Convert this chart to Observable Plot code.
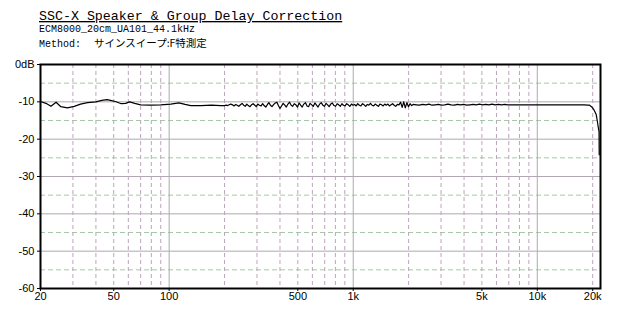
<!DOCTYPE html>
<html>
<head>
<meta charset="utf-8">
<script src="https://cdn.jsdelivr.net/npm/d3@7"></script>
<script src="https://cdn.jsdelivr.net/npm/@observablehq/plot@0.6"></script>
<style>
  body { margin: 0; background: #fff; }
  #wrap { width: 640px; height: 320px; background: #fff; }
  #head { display: block; }
</style>
</head>
<body>
<div id="wrap"></div>
<script>
// ---- texts ----
const titleText = "SSC-X Speaker & Group Delay Correction";
const subLine1 = "ECM8000_20cm_UA101_44.1kHz";
const subLine2a = "Method: ";
const subLine2b = "サインスイープ:F特測定";

// ---- axes ----
const xDomain = [20, 22050];
const xTicks = [20, 50, 100, 500, 1000, 5000, 10000, 20000];
const xTickLabels = ["20", "50", "100", "500", "1k", "5k", "10k", "20k"];
const yTicks = [0, -10, -20, -30, -40, -50, -60];
const yTickLabels = ["0dB", "-10", "-20", "-30", "-40", "-50", "-60"];
const xGridMajor = [100, 1000, 10000];
const xGridMinor = [30, 40, 50, 60, 70, 80, 90, 200, 300, 400, 500, 600, 700, 800, 900,
  2000, 3000, 4000, 5000, 6000, 7000, 8000, 9000, 20000];
const yGridMajor = [-10, -20, -30, -40, -50];
const yGridMinor = [-5, -15, -25, -35, -45, -55];

// ---- measured response (frequency Hz, level dB) ----
const freq = [
  20, 21.4, 22.8, 24.3, 25.8, 28, 30.5, 33, 36, 40, 43, 46, 48, 51, 55, 58, 61, 65, 70, 79, 90,
  102, 113, 122, 131, 149, 170, 190,
  200, 204, 208, 212, 216, 221, 225, 230, 234, 239, 244, 249, 254, 259, 264, 269, 275, 280,
  286, 292, 297, 303, 309, 316, 322, 328, 335, 342, 348, 355, 362, 370, 377, 385, 392, 400,
  408, 416, 425, 433, 442, 451, 460, 469, 478, 488, 498, 508, 518, 528, 539, 550, 561, 572,
  583, 595, 607, 619, 632, 644, 657, 670, 684, 698, 712, 726, 740, 755, 770, 786, 802, 818,
  834, 851, 868, 885, 903, 921, 940, 958, 978, 997, 1017, 1038, 1058, 1080, 1101, 1123, 1146,
  1169, 1192, 1216, 1240, 1265, 1291, 1316, 1343, 1370, 1397, 1425, 1454, 1483, 1512, 1543,
  1573, 1605, 1637, 1670, 1703, 1737, 1772, 1808, 1844, 1881, 1918, 1957, 1996, 2036, 2077, 2118,
  2200, 2290, 2380, 2480, 2580, 2680, 2790, 2900, 3020, 3140, 3270, 3400, 3540, 3680, 3830,
  3980, 4140, 4310, 4480, 4660, 4850, 5040, 5250, 5460, 5680, 5900, 6140, 6390, 6650, 6900,
  8000, 10000, 12000, 15000, 18000, 18800, 19230, 19700, 20300, 20900, 21200, 21350, 21550, 21650, 21700
];
const level = [
  -9.9, -10.4, -11.2, -10.1, -11.3, -11.6, -11.2, -10.6, -10.2, -10.0, -9.6, -9.4, -9.6, -9.9, -10.5, -10.4, -10.0, -10.4, -10.8, -10.9, -10.8,
  -10.6, -10.3, -10.7, -11.0, -11.0, -10.9, -11.0,
  -11.0, -10.9, -11.0, -10.8, -10.6, -10.8, -11.1, -10.7, -10.9, -11.2, -10.8, -10.4, -10.9, -11.2, -10.6, -11.0, -11.3, -10.8,
  -10.5, -10.9, -11.3, -10.6, -10.9, -11.1, -10.5, -11.0, -11.4, -10.7, -10.2, -10.9, -11.3, -10.7, -10.3, -10.1, -11.0, -11.8,
  -11.1, -10.4, -10.9, -11.4, -10.6, -10.1, -10.9, -11.2, -10.5, -10.8, -11.4, -10.3, -10.9, -11.4, -10.6, -10.2, -11.1, -11.3,
  -10.4, -10.8, -11.2, -10.3, -10.9, -11.4, -10.6, -10.2, -10.9, -11.2, -10.4, -10.8, -11.3, -10.6, -10.3, -11.0, -11.2, -10.5,
  -10.8, -11.2, -10.5, -10.9, -11.1, -10.5, -10.8, -11.2, -10.6, -10.9, -10.7, -11.1, -10.5, -10.9, -11.1, -10.5, -10.8,
  -11.2, -10.7, -10.9, -10.4, -10.9, -11.1, -10.6, -10.9, -11.2, -10.6, -10.8, -11.1, -10.6, -10.9, -10.6,
  -11.1, -10.8, -10.5, -10.9, -11.2, -10.7, -10.8, -10.1, -11.5, -10.0, -11.6, -10.2, -11.3, -10.5, -11.0, -10.7,
  -10.8, -10.9, -10.7, -10.8, -10.6, -10.9, -10.8, -10.7, -10.9, -10.8, -10.6, -10.8, -10.9, -10.7, -10.8,
  -10.7, -10.9, -10.8, -10.7, -10.8, -10.6, -10.8, -10.7, -10.8, -10.6, -10.8, -10.7, -10.8, -10.7, -10.8,
  -10.8, -10.8, -10.8, -10.8, -10.8, -10.9, -10.9, -11.3, -12.1, -13.4, -15.2, -16.2, -17.5, -18.0, -24.2
];

const data = freq.map((f, i) => ({f, db: level[i]}));
const xTickData = xTicks.map((v, i) => ({v, label: xTickLabels[i]}));

// ---- header (title and subtitles) ----
const wrap = document.getElementById("wrap");
const head = d3.create("svg")
  .attr("id", "head")
  .attr("width", 640)
  .attr("height", 56);
head.append("text")
  .attr("x", 39).attr("y", 20)
  .attr("font-family", "'Liberation Mono', 'DejaVu Sans Mono', monospace")
  .attr("font-size", 13.3)
  .attr("text-decoration", "underline")
  .attr("fill", "#000")
  .text(titleText);
head.append("text")
  .attr("x", 39).attr("y", 32)
  .attr("font-family", "'Liberation Mono', 'DejaVu Sans Mono', monospace")
  .attr("font-size", 10)
  .attr("fill", "#000")
  .text(subLine1);
const l2 = head.append("text")
  .attr("x", 39).attr("y", 47)
  .attr("font-family", "'Liberation Mono', 'DejaVu Sans Mono', monospace")
  .attr("font-size", 10)
  .attr("fill", "#000")
  .attr("xml:space", "preserve");
l2.append("tspan").text(subLine2a);
l2.append("tspan")
  .attr("x", 94)
  .attr("font-family", "'Noto Sans CJK JP', sans-serif")
  .attr("font-size", 10.5)
  .text(subLine2b);
wrap.appendChild(head.node());

// ---- chart ----
const chart = Plot.plot({
  width: 640,
  height: 264,
  marginTop: 8,
  marginLeft: 40,
  marginRight: 40,
  marginBottom: 32,
  style: {fontFamily: "'Liberation Sans', 'DejaVu Sans', sans-serif", fontSize: "11px", color: "#000", background: "#fff"},
  x: {type: "log", domain: xDomain},
  y: {domain: [-60, 0]},
  marks: [
    Plot.ruleY(yGridMinor, {stroke: "#a6c8a6", strokeDasharray: "5,3", strokeWidth: 1}),
    Plot.ruleY(yGridMajor, {stroke: "#b0a8b0", strokeWidth: 1}),
    Plot.ruleX(xGridMinor, {stroke: "#bca4bc", strokeDasharray: "4,3", strokeWidth: 1}),
    Plot.ruleX(xGridMajor, {stroke: "#b0a8b0", strokeWidth: 1}),
    Plot.line(data, {x: "f", y: "db", stroke: "#000", strokeWidth: 1.2, curve: "linear"}),
    Plot.frame({stroke: "#000", strokeWidth: 2}),
    Plot.axisX({ticks: xTicks, tickFormat: () => "", tickSize: 3, label: null, stroke: "#000"}),
    Plot.text(xTickData, {x: "v", text: "label", frameAnchor: "bottom", dy: 11, fill: "#000", fontSize: 11}),
    Plot.axisY({ticks: yTicks, tickFormat: d => yTickLabels[yTicks.indexOf(d)], tickSize: 3, tickPadding: 3, label: null, stroke: "#000"})
  ]
});
wrap.appendChild(chart);
</script>
</body>
</html>
